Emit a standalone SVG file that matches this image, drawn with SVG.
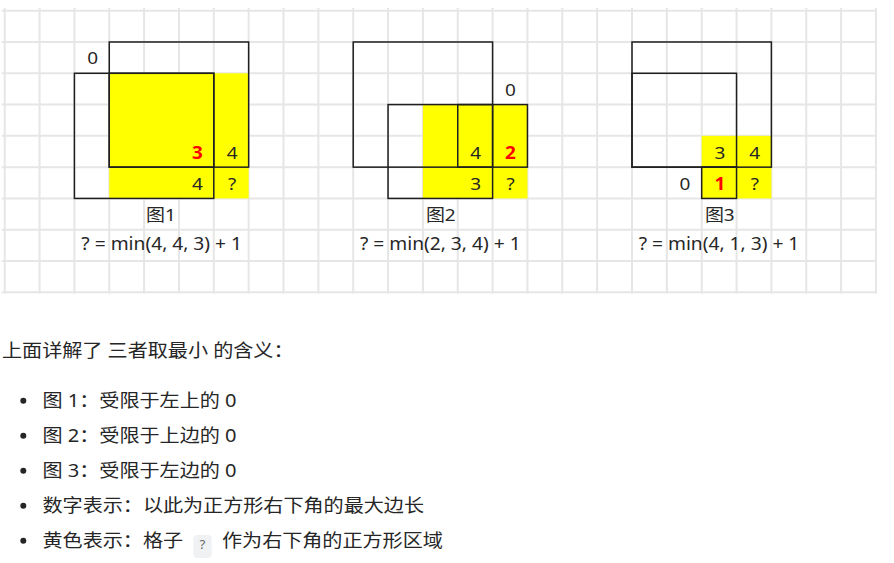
<svg xmlns="http://www.w3.org/2000/svg" width="894" height="563" viewBox="0 0 894 563">
<style>
.bg{fill:#ffffff}
.grid line{stroke:#e6e6e6;stroke-width:2}
.yel{fill:#ffff00}
.box{fill:none;stroke:#1f1f1f;stroke-width:1.5}
text{font-family:"Noto Sans","Noto Sans CJK SC",sans-serif;fill:#262626}
.t{transform:scale(1.116,1)}
.n{font-size:17px;text-anchor:middle}
.r{fill:#ff0000;font-weight:bold}
.cap{font-size:17px;text-anchor:middle}
.f{font-size:17.2px;text-anchor:middle}
.b{font-size:18px}
.dot{fill:#262626}
.chip{fill:#f0f1f3}
.q{font-size:12px;text-anchor:middle;fill:#6b6b6b}
</style>
<rect class="bg" x="0" y="0" width="894" height="563"/>
<g class="grid" id="grid">
<line x1="1.7" y1="10.7" x2="877" y2="10.7"/>
<line x1="1.7" y1="41.99" x2="877" y2="41.99"/>
<line x1="1.7" y1="73.28" x2="877" y2="73.28"/>
<line x1="1.7" y1="104.57" x2="877" y2="104.57"/>
<line x1="1.7" y1="135.86" x2="877" y2="135.86"/>
<line x1="1.7" y1="167.15" x2="877" y2="167.15"/>
<line x1="1.7" y1="198.44" x2="877" y2="198.44"/>
<line x1="1.7" y1="229.73" x2="877" y2="229.73"/>
<line x1="1.7" y1="261.02" x2="877" y2="261.02"/>
<line x1="1.7" y1="292.31" x2="877" y2="292.31"/>
<line x1="4.7" y1="8" x2="4.7" y2="293.5"/>
<line x1="39.55" y1="8" x2="39.55" y2="293.5"/>
<line x1="74.4" y1="8" x2="74.4" y2="293.5"/>
<line x1="109.25" y1="8" x2="109.25" y2="293.5"/>
<line x1="144.1" y1="8" x2="144.1" y2="293.5"/>
<line x1="178.95" y1="8" x2="178.95" y2="293.5"/>
<line x1="213.8" y1="8" x2="213.8" y2="293.5"/>
<line x1="248.65" y1="8" x2="248.65" y2="293.5"/>
<line x1="283.5" y1="8" x2="283.5" y2="293.5"/>
<line x1="318.35" y1="8" x2="318.35" y2="293.5"/>
<line x1="353.2" y1="8" x2="353.2" y2="293.5"/>
<line x1="388.05" y1="8" x2="388.05" y2="293.5"/>
<line x1="422.9" y1="8" x2="422.9" y2="293.5"/>
<line x1="457.75" y1="8" x2="457.75" y2="293.5"/>
<line x1="492.6" y1="8" x2="492.6" y2="293.5"/>
<line x1="527.45" y1="8" x2="527.45" y2="293.5"/>
<line x1="562.3" y1="8" x2="562.3" y2="293.5"/>
<line x1="597.15" y1="8" x2="597.15" y2="293.5"/>
<line x1="632" y1="8" x2="632" y2="293.5"/>
<line x1="666.85" y1="8" x2="666.85" y2="293.5"/>
<line x1="701.7" y1="8" x2="701.7" y2="293.5"/>
<line x1="736.55" y1="8" x2="736.55" y2="293.5"/>
<line x1="771.4" y1="8" x2="771.4" y2="293.5"/>
<line x1="806.25" y1="8" x2="806.25" y2="293.5"/>
<line x1="841.1" y1="8" x2="841.1" y2="293.5"/>
<line x1="875.95" y1="8" x2="875.95" y2="293.5"/>
</g>
<g id="fig1">
<rect class="yel" x="109.25" y="73.28" width="139.4" height="125.16"/>
<rect class="box" x="109.25" y="41.99" width="139.4" height="125.16"/>
<rect class="box" x="74.4" y="73.28" width="139.4" height="125.16"/>
<rect class="box" x="109.25" y="73.28" width="104.55" height="93.87"/>
<text class="t n" x="83.06" y="64.5">0</text>
<text class="t n r" x="176.88" y="158.8">3</text>
<text class="t n" x="208.06" y="158.8">4</text>
<text class="t n" x="176.88" y="190.1">4</text>
<text class="t n" x="208.06" y="190.1">?</text>
<text class="t cap" x="144.27" y="220.7">图1</text>
<text class="t f" x="144.89" y="250.5">? = min(4, 4, 3) + 1</text>
</g>
<g id="fig2">
<rect class="yel" x="422.9" y="104.57" width="104.55" height="93.87"/>
<rect class="box" x="353.2" y="41.99" width="139.4" height="125.16"/>
<rect class="box" x="388.05" y="104.57" width="104.55" height="93.87"/>
<rect class="box" x="457.75" y="104.57" width="69.7" height="62.58"/>
<text class="t n" x="457.44" y="96.4">0</text>
<text class="t n" x="426.25" y="158.8">4</text>
<text class="t n r" x="457.44" y="158.8">2</text>
<text class="t n" x="426.25" y="190.1">3</text>
<text class="t n" x="457.44" y="190.1">?</text>
<text class="t cap" x="394.98" y="220.7">图2</text>
<text class="t f" x="394.53" y="250.5">? = min(2, 3, 4) + 1</text>
</g>
<g id="fig3">
<rect class="yel" x="701.7" y="135.86" width="69.7" height="62.58"/>
<rect class="box" x="632" y="41.99" width="139.4" height="125.16"/>
<rect class="box" x="632" y="73.28" width="104.55" height="93.87"/>
<rect class="box" x="701.7" y="167.15" width="34.85" height="31.29"/>
<text class="t n" x="645.16" y="158.8">3</text>
<text class="t n" x="676.34" y="158.8">4</text>
<text class="t n" x="613.8" y="190.1">0</text>
<text class="t n r" x="645.16" y="190.1">1</text>
<text class="t n" x="676.34" y="190.1">?</text>
<text class="t cap" x="644.98" y="220.7">图3</text>
<text class="t f" x="644.27" y="250.5">? = min(4, 1, 3) + 1</text>
</g>
<g id="notes">
<text class="t b" x="1.79" y="356.6">上面详解了 三者取最小 的含义：</text>
<circle class="dot" cx="23.3" cy="400.7" r="3"/>
<text class="t b" x="38.08" y="407">图 1：受限于左上的 0</text>
<circle class="dot" cx="23.3" cy="435.7" r="3"/>
<text class="t b" x="38.08" y="442">图 2：受限于上边的 0</text>
<circle class="dot" cx="23.3" cy="470.7" r="3"/>
<text class="t b" x="38.08" y="477">图 3：受限于左边的 0</text>
<circle class="dot" cx="23.3" cy="505.7" r="3"/>
<text class="t b" x="38.08" y="512">数字表示：以此为正方形右下角的最大边长</text>
<circle class="dot" cx="23.3" cy="540.7" r="3"/>
<text class="t b" x="38.08" y="547">黄色表示：格子</text>
<rect class="chip" x="193.3" y="535" width="18.4" height="23" rx="4"/>
<text class="t q" x="181.45" y="549.5">?</text>
<text class="t b" x="198.92" y="547">作为右下角的正方形区域</text>
</g>
</svg>
